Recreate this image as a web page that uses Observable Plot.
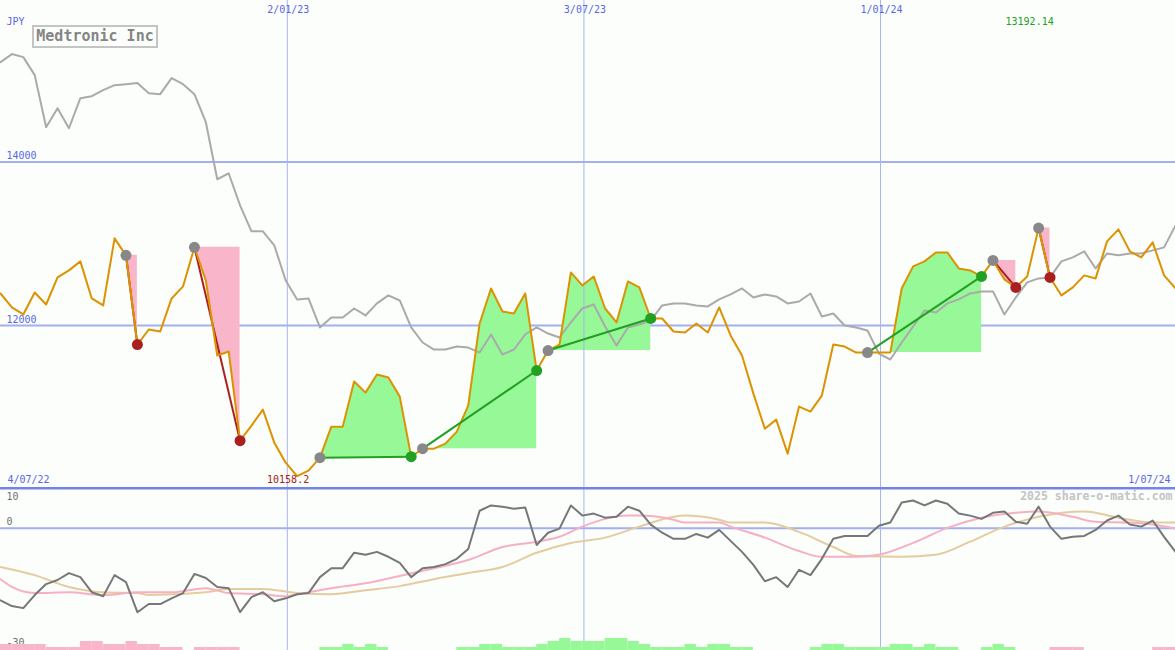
<!DOCTYPE html>
<html><head><meta charset="utf-8">
<script src="https://cdn.jsdelivr.net/npm/d3@7"></script>
<script src="https://cdn.jsdelivr.net/npm/@observablehq/plot@0.6"></script>
<style>
html,body{margin:0;padding:0;background:#fbfefb;}
#wrap{position:relative;width:1175px;height:650px;background:#fbfefb;overflow:hidden;}
#wrap svg{position:absolute;left:0;display:block;}
#title{position:absolute;left:32px;top:25px;width:122px;height:19px;border:2px solid #c4c4c4;color:#858585;font:bold 15px "DejaVu Sans Mono",monospace;line-height:19px;text-align:center;background:#fbfefb;}
</style></head><body><div id="wrap"></div>
<script>
// ---------- data ----------
const title = "Medtronic Inc";
const currency = "JPY";
const startDate = "2022-07-10";            // first weekly point
const startLabel = "4/07/22";
const endLabel = "1/07/24";
const gridDates = ["2023-01-02", "2023-07-03", "2024-01-01"];
const gridLabels = ["2/01/23", "3/07/23", "1/01/24"];
const priceTicks = [12000, 14000];
const oscLabels = ["10", "0", "-30"];
const watermark = "2025 share-o-matic.com";

// weekly closing price (JPY)
const price = [12392,12221,12135,12404,12257,12588,12674,12784,12331,12245,
13066,12858,11767,11951,11927,12331,12478,12956,12551,11633,
11682,10591,10775,10971,10567,10322,10158.2,10224,10383,10763,
10763,11314,11179,11400,11363,11130,10395,10493,10493,10555,
10702,11020,12025,12453,12172,12147,12392,11449,11694,11767,
12649,12490,12600,12208,12037,12539,12466,12086,12086,11927,
11914,12025,11914,12221,11878,11633,11167,10738,10849,10432,
11008,10947,11143,11767,11743,11669,11669,11669,11669,12453,
12723,12784,12894,12894,12698,12674,12600,12796,12564,12466,
12600,13192.14,12588,12368,12466,12613,12576,13029,13176,12907,
12833,13017,12613,12453];

// comparison line (grey)
const comparison = [15222,15320,15283,15063,14426,14658,14413,14781,14805,14879,
14940,14952,14965,14842,14830,15026,14952,14830,14487,13789,
13862,13470,13152,13152,12980,12551,12319,12331,11976,12098,
12098,12208,12123,12270,12368,12306,11976,11792,11706,11706,
11743,11730,11669,11890,11645,11706,11890,11976,11902,11853,
12037,12208,12257,11988,11755,11976,12012,12061,12245,12270,
12270,12245,12233,12319,12380,12453,12343,12380,12355,12270,
12294,12392,12110,12147,12000,11976,11939,11657,11584,11792,
11988,12184,12159,12270,12319,12392,12417,12417,12135,12343,
12527,12576,12588,12784,12833,12907,12698,12882,12858,12882,
12882,12919,12956,13225];

// lower panel oscillator (dark line)
const osc = [-17.7,-19.1,-19.6,-16.4,-13.7,-12.7,-11.0,-12.0,-15.7,-16.7,
-11.5,-13.2,-20.6,-18.6,-18.6,-17.2,-15.9,-11.2,-12.2,-14.4,
-14.7,-20.6,-16.9,-15.7,-17.9,-17.2,-16.2,-15.9,-12.0,-9.8,
-9.8,-6.0,-6.5,-5.8,-7.0,-8.5,-12.0,-9.8,-9.5,-8.8,
-7.5,-5.1,4.3,5.6,5.3,4.8,5.1,-4.1,-1.1,-0.1,
5.6,3.1,3.6,2.6,2.8,5.3,4.3,0.9,-1.1,-2.6,
-2.6,-1.4,-2.3,-0.4,-3.1,-5.8,-9.0,-13.0,-12.0,-14.4,
-10.2,-11.5,-7.5,-2.6,-1.9,-1.9,-1.9,0.6,1.4,6.3,
6.8,5.6,6.8,6.0,3.6,3.1,2.3,3.8,4.1,1.6,
1.1,5.3,0.4,-2.6,-2.1,-1.9,-0.4,1.9,3.1,0.9,
0.4,1.9,-2.1,-5.8];

// smoothed lines in lower panel (week index, value)
const pinkWeek = [0,1,3,6,9,12,15,18,20,23,25,26,29,32,35,38,41,44,47,49,51,53,55,56,59,60,63,64,67,70,72,75,77,80,83,86,89,91,94,96,99,101,103];
const pinkVal = [-12.5,-14.4,-15.9,-15.7,-16.4,-15.7,-15.7,-14.7,-15.9,-16.2,-16.7,-16.2,-14.7,-13.5,-11.7,-9.8,-7.8,-4.6,-3.3,-2.1,0.4,2.3,3.1,3.1,2.1,1.4,1.4,0.4,-2.3,-5.6,-7.0,-7.0,-6.5,-3.6,0.1,2.6,3.8,4.1,2.8,1.6,1.4,0.9,-0.1];
const tanWeek = [0,3,6,9,12,13,18,20,23,26,29,32,35,38,41,44,47,50,53,56,59,60,63,64,67,70,73,75,79,82,85,88,91,95,98,101,103];
const tanVal = [-9.5,-11.5,-14.4,-15.7,-15.9,-16.4,-15.7,-14.9,-14.9,-15.9,-16.2,-15.2,-14.2,-12.5,-11.0,-9.5,-6.0,-3.6,-2.3,0.4,2.8,3.1,2.1,1.4,1.4,-0.9,-4.6,-6.8,-7.0,-6.5,-3.3,0.4,2.8,4.1,2.6,1.4,1.4];

// weekly strength histogram (positive = green, negative = pink)
const hist = [-2,-2,-2,-2,-1,-1,-1,-3,-3,-2,-2,-3,-2,-2,-1,-1,0,-1,-1,-1,
-1,0,0,0,0,0,0,0,1,1,2,1,2,1,0,0,0,0,0,0,
1,1,2,2,1,1,1,2,3,4,3,3,3,4,4,3,2,1,1,1,
2,1,2,2,1,1,0,0,0,0,0,1,2,2,1,1,1,1,2,2,
1,2,1,1,0,0,1,2,1,0,0,0,-1,-1,-1,0,0,0,0,0,
0,-1,-1,0];

// signals: type, start week, end week
const sigType  = ["sell","sell","buy","buy","buy","buy","sell","sell"];
const sigStart = [11, 17, 28, 37, 48, 76, 87, 91];
const sigEnd   = [12, 21, 36, 47, 57, 86, 89, 92];

// ---------- build ----------
const BG = "#fbfefb", BLUE = "#5b66e6", GRID = "#a3aff0", VGRID = "#a9b4f0";
const PINK = "#f9b5c9", GREEN = "#96f896", DARKRED = "#aa2020", DKGREEN = "#22a022";
const FONT = "'DejaVu Sans Mono', monospace";
const W = 1175, H1 = 487, H2 = 163;

const t0 = new Date(startDate);
const dates = price.map((_, i) => d3.utcDay.offset(t0, 7 * i));
const rows = dates.map((date, i) => ({date, next: d3.utcDay.offset(date, 7), price: price[i], comp: comparison[i], osc: osc[i], hist: hist[i]}));
const gDates = gridDates.map(d => new Date(d));
const pinkRows = pinkWeek.map((w, i) => ({date: dates[w], v: pinkVal[i]}));
const tanRows = tanWeek.map((w, i) => ({date: dates[w], v: tanVal[i]}));

const sigs = sigType.map((type, k) => ({type, k,
  d1: dates[sigStart[k]], p1: price[sigStart[k]],
  d2: dates[sigEnd[k]], p2: price[sigEnd[k]]}));
const fillRows = [];
sigs.forEach((s, k) => {
  for (let i = sigStart[k]; i <= sigEnd[k]; i++)
    fillRows.push({k, type: s.type, date: dates[i], base: s.p1, price: price[i]});
});
const minRow = rows.reduce((a, b) => b.price < a.price ? b : a);
const maxRow = rows.reduce((a, b) => b.price > a.price ? b : a);

const xScale = () => ({type: "utc", domain: [dates[0], dates[dates.length - 1]], range: [0, W], axis: null});
const T = {lineAnchor: "middle"};

const main = Plot.plot({
  width: W, height: H1, margin: 0,
  x: xScale(),
  y: {domain: [12000, 14000], range: [325, 161.5], axis: null},
  style: {background: BG, fontFamily: FONT, fontSize: "10px"},
  marks: [
    Plot.ruleY(priceTicks, {stroke: GRID, strokeWidth: 2}),
    Plot.areaY(fillRows.filter(d => d.type === "sell"), {x: "date", y1: "base", y2: "price", z: "k", fill: PINK}),
    Plot.areaY(fillRows.filter(d => d.type === "buy"), {x: "date", y1: "base", y2: "price", z: "k", fill: GREEN}),
    Plot.ruleX(gDates, {stroke: VGRID, strokeWidth: 1}),
    Plot.line(rows, {x: "date", y: "comp", stroke: "#aaaaaa", strokeWidth: 2}),
    Plot.link(sigs.filter(s => s.type === "sell"), {x1: "d1", y1: "p1", x2: "d2", y2: "p2", stroke: DARKRED, strokeWidth: 2}),
    Plot.line(rows, {x: "date", y: "price", stroke: "#dd9200", strokeWidth: 2}),
    Plot.link(sigs.filter(s => s.type === "buy"), {x1: "d1", y1: "p1", x2: "d2", y2: "p2", stroke: DKGREEN, strokeWidth: 2}),
    Plot.dot(sigs, {x: "d1", y: "p1", r: 5.5, fill: "#888888"}),
    Plot.dot(sigs.filter(s => s.type === "sell"), {x: "d2", y: "p2", r: 5.5, fill: DARKRED}),
    Plot.dot(sigs.filter(s => s.type === "buy"), {x: "d2", y: "p2", r: 5.5, fill: DKGREEN}),
    Plot.text(gDates, {...T, x: d => d, text: (d, i) => gridLabels[i], frameAnchor: "top", dy: 9, dx: 1, fill: BLUE}),
    Plot.text([currency], {...T, text: d => d, frameAnchor: "top-left", dx: 6, dy: 21, textAnchor: "start", fill: BLUE}),
    Plot.text(priceTicks, {...T, y: d => d, text: d => String(d), frameAnchor: "left", dx: 6, dy: -6, textAnchor: "start", fill: BLUE}),
    Plot.text([startLabel], {...T, text: d => d, frameAnchor: "bottom-left", dx: 7, dy: -8, textAnchor: "start", fill: BLUE}),
    Plot.text([endLabel], {...T, text: d => d, frameAnchor: "bottom-right", dx: -5, dy: -8, textAnchor: "end", fill: BLUE}),
    Plot.text([minRow], {...T, x: "date", text: d => String(d.price), frameAnchor: "bottom", dx: -9, dy: -8, fill: DARKRED}),
    Plot.text([maxRow], {...T, x: "date", text: d => d.price.toFixed(2), frameAnchor: "top", dx: -9, dy: 21, fill: DKGREEN})
  ]
});

const lower = Plot.plot({
  width: W, height: H2, margin: 0,
  x: xScale(),
  y: {domain: [-30, 10], range: [H2, 0], axis: null},
  style: {background: BG, fontFamily: FONT, fontSize: "10px"},
  marks: [
    Plot.ruleY([0], {stroke: GRID, strokeWidth: 2}),
    Plot.ruleX(gDates, {stroke: VGRID, strokeWidth: 1}),
    Plot.line(tanRows, {x: "date", y: "v", stroke: "#e4cc9e", strokeWidth: 2, curve: "monotone-x"}),
    Plot.line(pinkRows, {x: "date", y: "v", stroke: "#f7afc4", strokeWidth: 2, curve: "monotone-x"}),
    Plot.line(rows, {x: "date", y: "osc", stroke: "#777777", strokeWidth: 2}),
    Plot.ruleY([10], {stroke: "#7383e8", strokeWidth: 4}),
    Plot.text([oscLabels[0]], {...T, text: d => d, frameAnchor: "top-left", dx: 6, dy: 9, textAnchor: "start", fill: "#707070"}),
    Plot.text([0], {...T, y: d => d, text: () => oscLabels[1], frameAnchor: "left", dx: 6, dy: -6, textAnchor: "start", fill: "#707070"}),
    Plot.text([oscLabels[2]], {...T, text: d => d, frameAnchor: "bottom-left", dx: 6, dy: -8, textAnchor: "start", fill: "#707070"}),
    Plot.text([watermark], {...T, text: d => d, frameAnchor: "top-right", dx: -3, dy: 9, textAnchor: "end", fill: "#c4c4c4", fontWeight: "bold", fontSize: 11.5})
  ]
});

const histPlot = Plot.plot({
  width: W, height: 12, margin: 0,
  x: xScale(),
  y: {domain: [0, 4], range: [12, 0], axis: null},
  style: {background: "transparent"},
  marks: [
    Plot.rectY(rows.filter(d => d.hist > 0), {x1: "date", x2: "next", y: d => d.hist, fill: GREEN}),
    Plot.rectY(rows.filter(d => d.hist < 0), {x1: "date", x2: "next", y: d => -d.hist, fill: PINK})
  ]
});

const wrap = document.getElementById("wrap");
main.style.top = "0px";
lower.style.top = H1 + "px";
histPlot.style.top = (H1 + H2 - 12) + "px";
wrap.append(main, lower, histPlot);
const tdiv = document.createElement("div");
tdiv.id = "title";
tdiv.textContent = title;
wrap.append(tdiv);
</script></body></html>
